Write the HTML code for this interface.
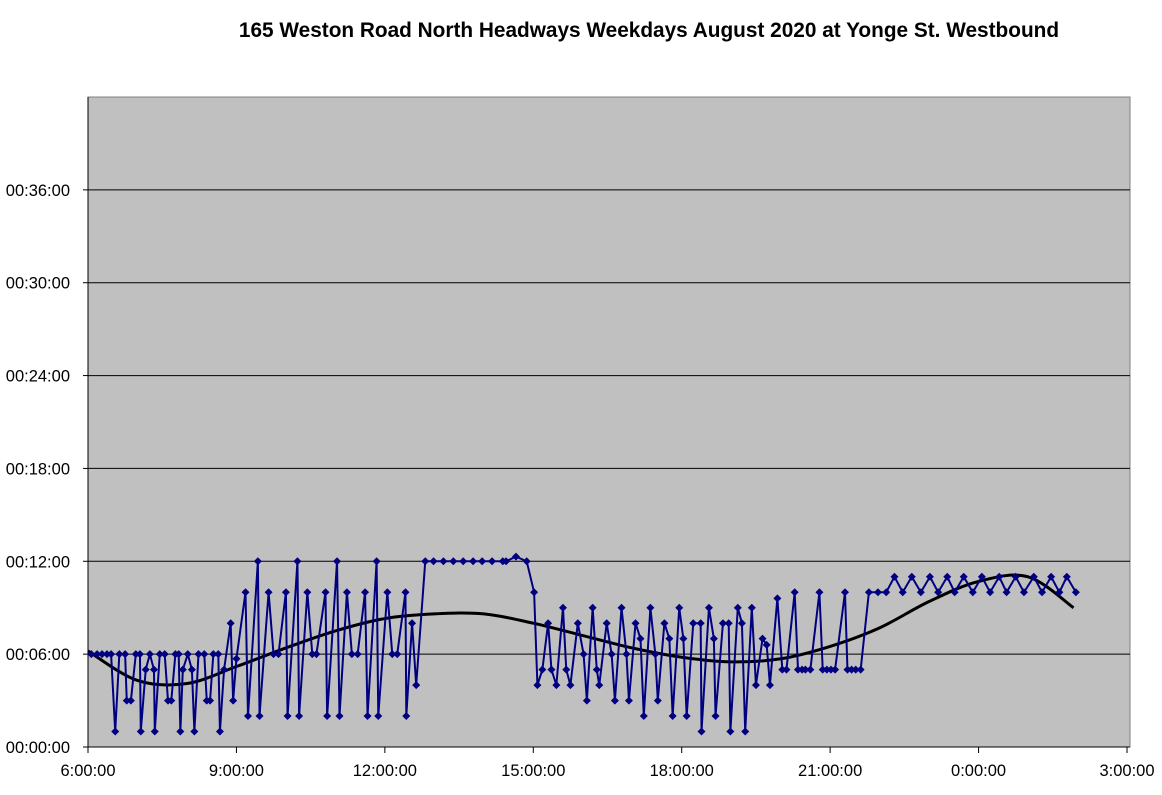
<!DOCTYPE html>
<html><head><meta charset="utf-8"><style>
body{margin:0;background:#fff;font-family:"Liberation Sans",Arial,sans-serif;}
svg text{font-family:"Liberation Sans",Arial,sans-serif;}
</style></head><body>
<svg id="chart" width="1162" height="790" xmlns="http://www.w3.org/2000/svg">
<text x="649" y="37" text-anchor="middle" font-size="20.8" font-weight="bold">165 Weston Road North Headways Weekdays August 2020 at Yonge St. Westbound</text>
<rect x="88" y="97" width="1042" height="650" fill="#c0c0c0" stroke="#808080"/>
<g id="grid"></g><g id="axes"></g><g id="trend"></g><g id="series"></g>
</svg>
<script>
// minutes after 6:00
const times=[4,11,17,23,28,33,38,45,47,52,58,63,64,70,75,80,81,87,93,97,101,106,110,112,115,121,126,129,134,141,144,148,152,158,160,165,173,176,180,191,194,206,208,219,225,231,240,242,254,256,266,272,277,288,290,302,305,314,320,327,336,339,350,352,363,369,375,385,386,393,398,409,419,431,443,455,467,478,490,503,507,519,532,541,545,551,558,562,568,576,580,585,594,601,605,612,617,620,629,635,639,647,653,656,664,670,674,682,688,691,699,705,709,717,722,726,734,743,744,753,759,761,770,777,779,788,793,797,805,810,818,823,827,836,842,847,857,861,866,870,876,887,891,896,901,906,918,921,926,931,937,947,958,968,978,988,999,1010,1021,1031,1042,1051,1062,1073,1084,1094,1105,1114,1125,1135,1147,1157,1168,1178,1187,1198];
// headway in minutes
const headways=[6,6,6,6,6,1,6,6,3,3,6,6,1,5,6,5,1,6,6,3,3,6,6,1,5,6,5,1,6,6,3,3,6,6,1,5,8,3,5.7,10,2,12,2,10,6,6,10,2,12,2,10,6,6,10,2,12,2,10,6,6,10,2,12,2,10,6,6,10,2,8,4,12,12,12,12,12,12,12,12,12,12,12.3,12,10,4,5,8,5,4,9,5,4,8,6,3,9,5,4,8,6,3,9,6,3,8,7,2,9,6,3,8,7,2,9,7,2,8,8,1,9,7,2,8,8,1,9,8,1,9,4,7,6.6,4,9.6,5,5,10,5,5,5,5,10,5,5,5,5,10,5,5,5,5,10,10,10,11,10,11,10,11,10,11,10,11,10,11,10,11,10,11,10,11,10,11,10,11,10,10,10];
const trendHours=[0,1,2,3,4,5,6,7,8,9,10,11,12,13,14,15,16,17,18,19,19.92];
const trendVals=[6.2,4.3,4.1,5.2,6.4,7.5,8.3,8.6,8.6,8.0,7.2,6.4,5.8,5.5,5.7,6.5,7.7,9.4,10.7,11.0,9.0];
const yTicks=[0,6,12,18,24,30,36];
const yTickLabels=["00:00:00","00:06:00","00:12:00","00:18:00","00:24:00","00:30:00","00:36:00"];
const xTickLabels=["6:00:00","9:00:00","12:00:00","15:00:00","18:00:00","21:00:00","0:00:00","3:00:00"];
const X0=88,X1=1130,Y0=747,Y1=97;
const xs=m=>X0+m/60*(1039/21);
const ys=v=>Y0-v*(Y0-Y1)/42;
const NS="http://www.w3.org/2000/svg";
function mk(t,a,p){const e=document.createElementNS(NS,t);for(const k in a)e.setAttribute(k,a[k]);p.appendChild(e);return e;}
const grid=document.getElementById('grid'),axes=document.getElementById('axes');
yTicks.forEach((v,i)=>{
 if(v>0){const l=mk('line',{x1:X0,x2:X1,y1:ys(v),y2:ys(v),stroke:'#000','stroke-width':1},grid);
 
 }
 const t=mk('text',{x:X0-18,y:ys(v)+6,'text-anchor':'end','font-size':16.5},axes);t.textContent=yTickLabels[i];
 
 
 mk('line',{x1:X0-5,x2:X0,y1:ys(v),y2:ys(v),stroke:'#000'},axes);
});
xTickLabels.forEach((lab,i)=>{
 const h=i*3;const x=xs(h*60);
 mk('line',{x1:x,x2:x,y1:Y0,y2:Y0+6,stroke:'#000'},axes);
 const t=mk('text',{x:x,y:Y0+29,'text-anchor':'middle','font-size':16.5},axes);t.textContent=lab;
 
 
});
mk('line',{x1:X0,x2:X1,y1:Y0,y2:Y0,stroke:'#000'},axes);
mk('line',{x1:X0,x2:X0,y1:Y1,y2:Y0,stroke:'#000'},axes);
const tp=trendHours.map((h,i)=>[xs(h*60),ys(trendVals[i])]);
let d='M'+tp[0][0]+','+tp[0][1];
for(let i=0;i<tp.length-1;i++){const p0=tp[i-1]||tp[i],p1=tp[i],p2=tp[i+1],p3=tp[i+2]||p2;
 d+=' C'+(p1[0]+(p2[0]-p0[0])/6)+','+(p1[1]+(p2[1]-p0[1])/6)+' '+(p2[0]-(p3[0]-p1[0])/6)+','+(p2[1]-(p3[1]-p1[1])/6)+' '+p2[0]+','+p2[1];}
const tr=mk('path',{d:d,fill:'none',stroke:'#000','stroke-width':3},document.getElementById('trend'));


const sg=document.getElementById('series');
const pts=times.map((t,i)=>xs(t)+','+ys(headways[i])).join(' ');
const pl=mk('polyline',{points:pts,fill:'none',stroke:'#000080','stroke-width':2},sg);


times.forEach((t,i)=>{const x=xs(t),y=ys(headways[i]);
 const m=mk('polygon',{points:`${x},${y-4} ${x+4},${y} ${x},${y+4} ${x-4},${y}`,fill:'#000080'},sg);
 
 
});
</script>
</body></html>
